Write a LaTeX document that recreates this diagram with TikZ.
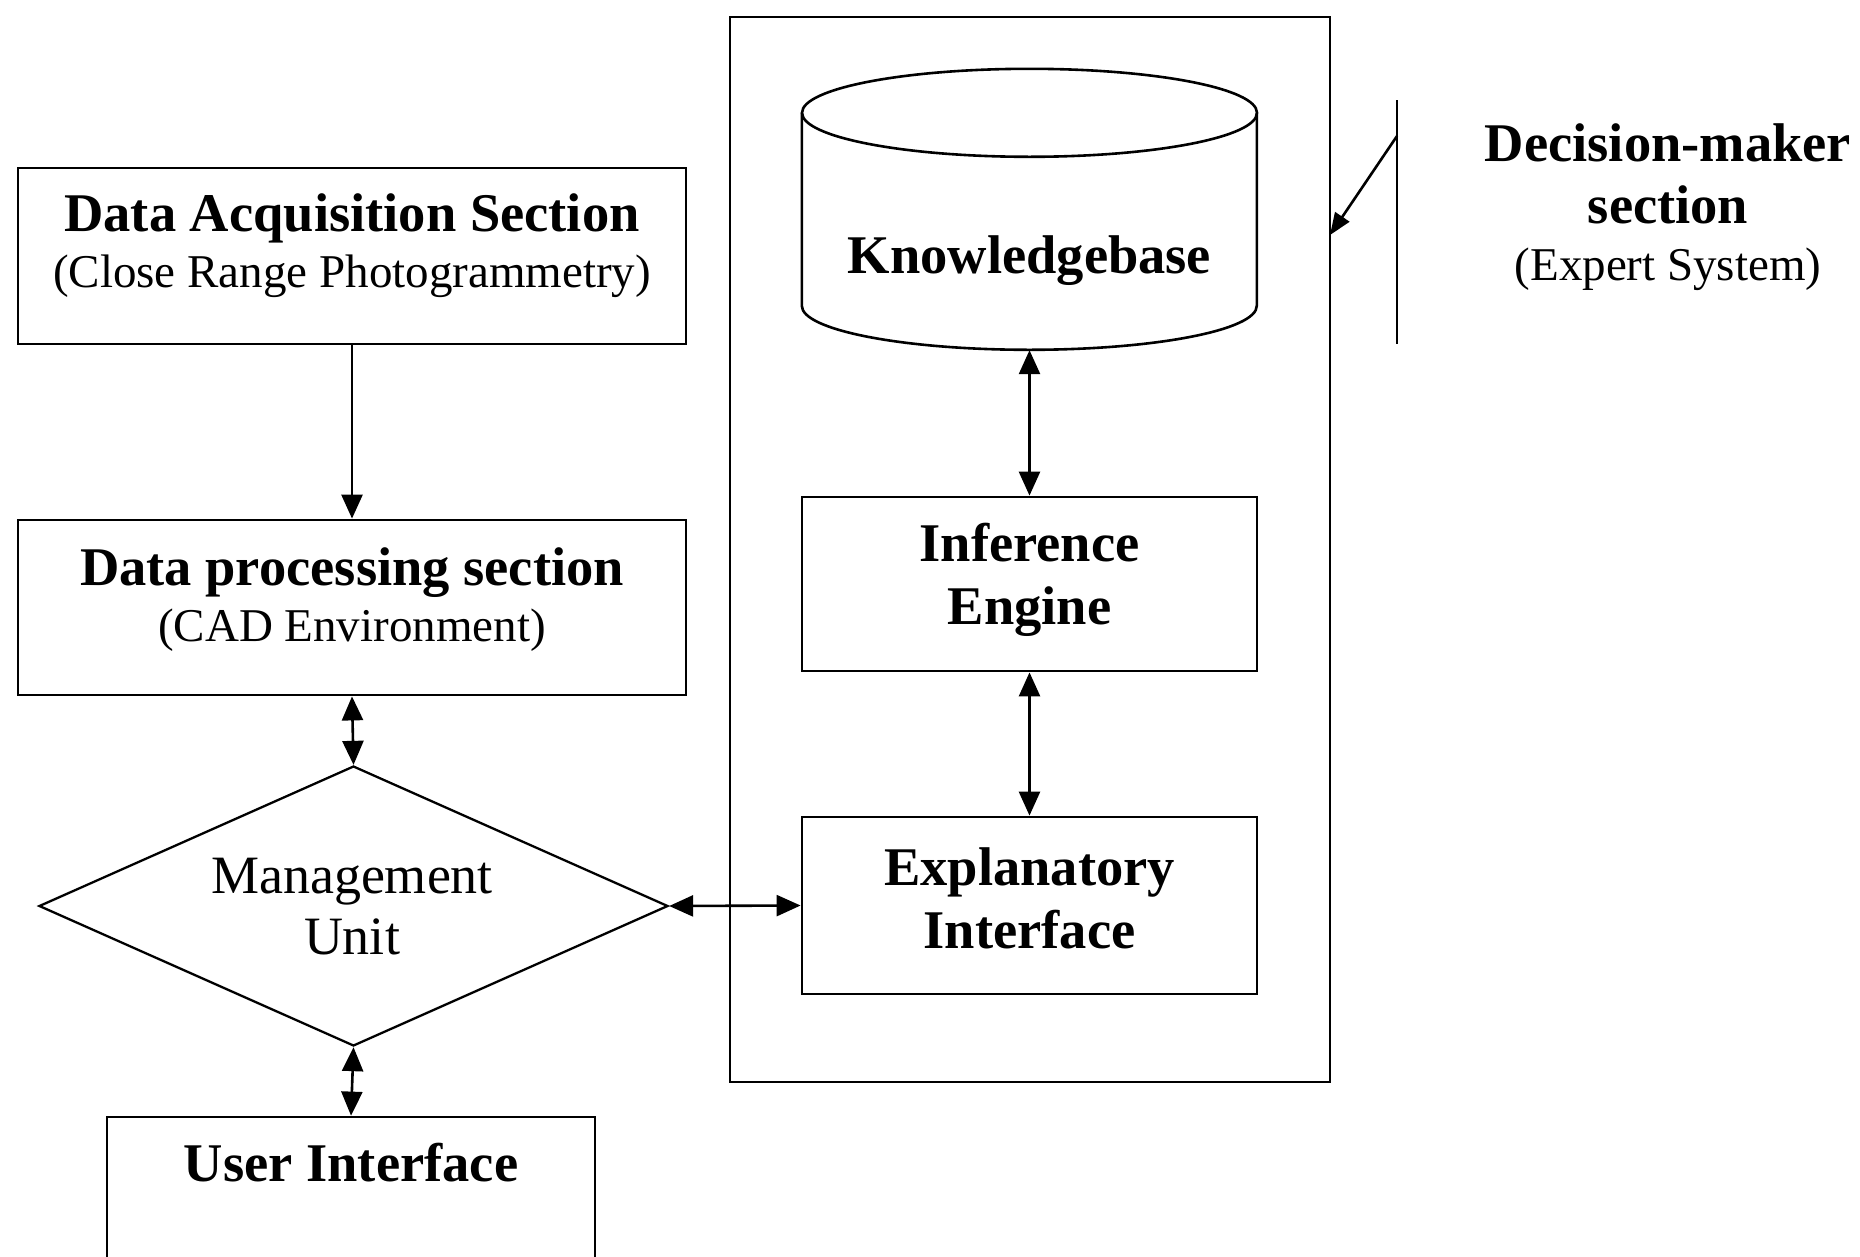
\documentclass[tikz,border=0pt]{standalone}
\usepackage{fontspec}
\setmainfont{Liberation Serif}
\usetikzlibrary{arrows.meta,shapes.geometric}
\begin{document}
\begin{tikzpicture}[x=1pt,y=-1pt,
  box/.style={draw, line width=2.8pt, rectangle, inner sep=0pt},
  bt/.style={font=\fontsize{54.5}{62}\selectfont\bfseries, inner sep=0pt, anchor=base},
  rt/.style={font=\fontsize{47}{55}\selectfont, inner sep=0pt, anchor=base},
  mt/.style={font=\fontsize{54}{60}\selectfont, inner sep=0pt, anchor=base},
  ln/.style={line width=2.6pt},
  tip/.style={},
  arr/.style={line width=2.6pt, -{Triangle[length=24pt,width=21pt]}},
  darr/.style={line width=2.6pt, {Triangle[length=24pt,width=21pt]}-{Triangle[length=24pt,width=21pt]}}]
\useasboundingbox (0,0) rectangle (1860,1256);
\clip (0,0) rectangle (1860,1256);
\fill[white] (0,0) rectangle (1860,1256);

% left column
\node[box, minimum width=668pt, minimum height=176pt] (da) at (352,256) {};
\node[bt] (da1) at (352,231) {Data Acquisition Section};
\node[rt] (da2) at (352,287) {(Close Range Photogrammetry)};

\node[box, minimum width=668pt, minimum height=175pt] (dp) at (352,607.5) {};
\node[bt] (dp1) at (352,585) {Data processing section};
\node[rt] (dp2) at (352,641) {(CAD Environment)};

\node[draw, diamond, line width=2.3pt, inner sep=0pt, minimum width=629pt, minimum height=280pt] (mu) at (353.5,906) {};
\node[mt] (mu1) at (352,893) {Management};
\node[mt] (mu2) at (352,954) {Unit};

\node[box, minimum width=488pt, minimum height=163pt] (ui) at (351,1198.5) {};
\node[bt] (ui1) at (351,1181) {User Interface};

% expert system container
\node[box, minimum width=600pt, minimum height=1065pt] (cont) at (1030,549.5) {};

% knowledgebase cylinder
\node[minimum width=455pt, minimum height=281pt, inner sep=0pt] (kb) at (1029.5,209.5) {};
\draw[ln] (kb.north) ++(0,44) ellipse [x radius=227.5pt, y radius=44pt];
\draw[ln] (kb.north west) ++(0,44) -- ++(0,193)
  arc[start angle=180, end angle=360, x radius=227.5pt, y radius=44pt] -- ++(0,-193);
\node[bt] (kb1) at (1029.5,273) {Knowledgebase};

\node[box, minimum width=455pt, minimum height=174pt] (ie) at (1029.5,584) {};
\node[bt] (ie1) at (1029.5,561) {Inference};
\node[bt] (ie2) at (1029.5,624) {Engine};

\node[box, minimum width=455pt, minimum height=177pt] (ei) at (1029.5,905.5) {};
\node[bt] (ei1) at (1029.5,885) {Explanatory};
\node[bt] (ei2) at (1029.5,948) {Interface};

% decision-maker label
\coordinate (dmt) at (1397,100);
\coordinate (dmb) at (1397,344);
\coordinate (dma) at (1397,136);
\coordinate (cin) at (1330,235);
\draw[ln] (dmt) -- (dmb);
\draw[line width=2.6pt, -{Triangle[length=22pt,width=17pt]}] (dma) -- (cin);
\node[bt] (dm1) at (1668,161) {Decision-maker};
\node[bt] (dm2) at (1668,223) {section};
\node[rt] (dm3) at (1668,280) {(Expert System)};

% connectors
\draw[arr] (da.south) -- (dp.north);
\draw[darr] (dp.south) -- (mu.north);
\draw[darr] (mu.south) -- (ui.north);
\draw[darr] (mu.east) -- (ei.west);
\draw[darr] (kb.south) -- (ie.north);
\draw[darr] (ie.south) -- (ei.north);
\end{tikzpicture}
\end{document}
